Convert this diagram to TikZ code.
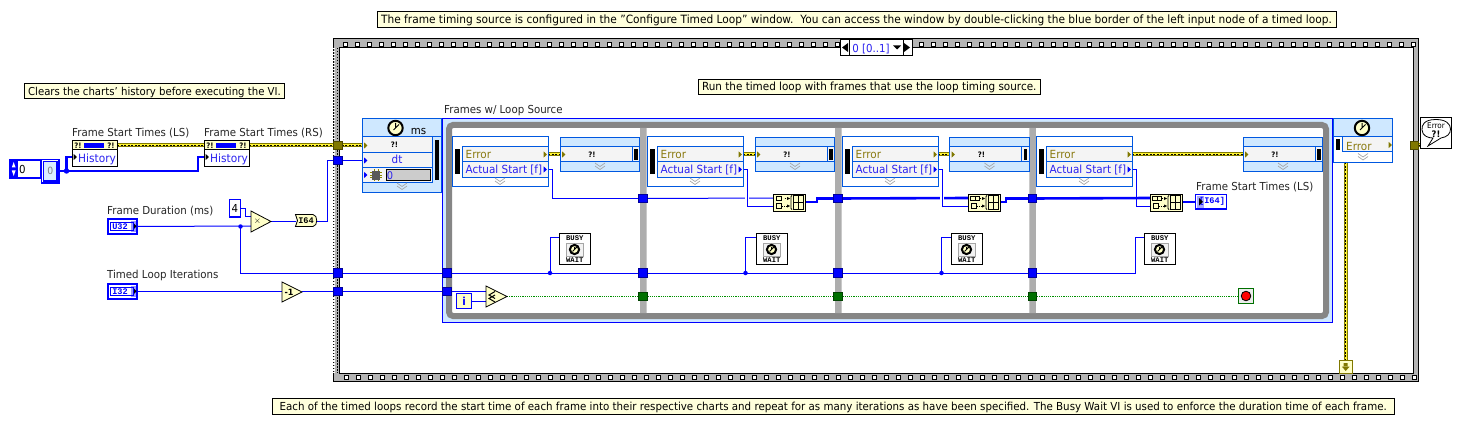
\documentclass[tikz,border=0pt]{standalone}
\usepackage{fontspec}
\setmainfont[FakeStretch=0.93]{DejaVu Sans}
\newfontfamily\monob[FakeStretch=1.0]{Liberation Mono}
\usetikzlibrary{calc}
\definecolor{lvblue}{HTML}{0000FF}
\definecolor{nodeb}{HTML}{0058E0}
\definecolor{lightb}{HTML}{CFE8FF}
\definecolor{rowg}{HTML}{F4F4F4}
\definecolor{notey}{HTML}{FFFFDC}
\definecolor{prim}{HTML}{FFFFC8}
\definecolor{oliv}{HTML}{807800}
\definecolor{errtxt}{HTML}{8A7A10}
\definecolor{txtb}{HTML}{2A20F0}
\definecolor{gframe}{HTML}{868686}
\definecolor{gdiv}{HTML}{ADADAD}
\definecolor{strip}{HTML}{B4B4B4}
\definecolor{dgreen}{HTML}{007000}
\definecolor{boolg}{HTML}{009000}
\pgfdeclarelayer{bg}\pgfdeclarelayer{wires}\pgfsetlayers{bg,wires,main}
\tikzset{
 x=1pt,y=-1pt,
 wire/.style={draw=lvblue,line width=1pt},
 wirethick/.style={draw=lvblue,line width=2.6pt},
 wirejoin/.style={wire,preaction={draw=white,line width=4.5pt}},
 boolw/.style={draw=boolg,line width=1pt,dash pattern=on 1.2pt off 1pt},
 errw/.style={draw=oliv,line width=4pt,postaction={draw=yellow!80!white,line width=2pt},postaction={draw=black,line width=1.7pt,dash pattern=on 2pt off 1.5pt}},
 notebox/.style={draw=black,line width=1pt,fill=notey,text height=9.5pt,text depth=2pt},
 tunnelbox/.style={draw=#1!60!black,line width=.8pt,minimum size=8.5pt,inner sep=0pt,outer sep=0pt},
 tunnelblue/.style={tunnelbox=lvblue,fill=lvblue},
 tunnelerr/.style={tunnelbox=oliv,fill=oliv},
 tunnelgreen/.style={tunnelbox=dgreen,fill=dgreen},
 lbl/.style={anchor=base west,inner sep=0pt,font=\fontsize{11}{12}\selectfont,text=black!85},
 ctr/.style={anchor=base,inner sep=0pt},
 loopbox/.style={draw=nodeb,line width=1pt,fill=lightb},
 framebox/.style={draw=nodeb,line width=1pt,fill=white},
 rowbox/.style={draw=nodeb,line width=1pt,fill=rowg},
 blackbox/.style={draw=black,line width=1pt,fill=white},
 junc/.style={circle,fill=lvblue,inner sep=0pt,minimum size=4.5pt},
 prime/.style={draw=black,line width=.8pt,fill=prim,line join=miter},
}
\newcommand{\rectn}[7]{\pgfmathsetmacro\rw{(#5)-(#3)}\pgfmathsetmacro\rh{(#6)-(#4)}%
 \node[#2,anchor=north west,minimum width=\rw pt,minimum height=\rh pt,inner sep=0pt,outer sep=0pt] (#1) at (#3,#4) {#7};}
\newcommand{\portarrow}[3]{\fill[#1] (#2,#3-3.2) -- (#2+3.4,#3) -- (#2,#3+3.2) -- cycle;}
\newcommand{\chev}[2]{\draw[gray!70,line width=.7pt] (#1-5,#2-3.5) -- (#1,#2) -- (#1+5,#2-3.5) (#1-5,#2-.5) -- (#1,#2+3) -- (#1+5,#2-.5);}
\newcommand{\clockicon}[3]{\draw[black,line width=2pt,fill=prim] (#1,#2) circle (#3);
 \draw[black,line width=1pt] (#1,#2-#3+2) -- (#1,#2) -- (#1+#3*.5,#2-#3*.5) (#1,#2) -- (#1-2,#2+2);}
\newcommand{\errmark}[2]{\node[inner sep=0pt,font=\fontsize{7.5}{8}\selectfont\bfseries] at (#1,#2) {?!};}
\newcommand{\fleft}[2]{%
 \rectn{#1}{framebox}{#2}{137}{#2+96}{186.5}{}
 \rectn{#1r}{rowbox}{#2+10}{147}{#2+96}{162}{}
 \rectn{#1s}{rowbox}{#2+10}{162}{#2+96}{177}{}
 \fill[black] (#2+3,149) rectangle (#2+7.5,174.5);
 \node[lbl,text=errtxt,font=\fontsize{11.2}{12}\selectfont] at (#2+13.5,159) {Error};
 \node[lbl,text=txtb,font=\fontsize{11.2}{12}\selectfont] at (#2+13.5,174) {Actual Start [f]};
 \portarrow{oliv}{#2+91.5}{154.5}\portarrow{lvblue}{#2+91.5}{169.5}
 \chev{#2+48}{181.5}
 \coordinate (#1err) at (#2+96,154.5); \coordinate (#1as) at (#2+96,170);}
\newcommand{\fright}[2]{%
 \rectn{#1}{loopbox}{#2}{138}{#2+79.5}{172}{}
 \rectn{#1r}{rowbox}{#2}{147}{#2+79.5}{162}{}
 \draw[nodeb,line width=1pt] (#2+72,147) -- (#2+72,162);
 \fill[black] (#2+74,149) rectangle (#2+77.5,160);
 \errmark{#2+32}{154.5}
 \portarrow{oliv}{#2+2}{154.5}
 \chev{#2+40}{166.5}
 \coordinate (#1err) at (#2,154.5);}
\newcommand{\busyw}[2]{%
 \rectn{#1}{blackbox}{#2}{233}{#2+31.5}{264.5}{}
 \node[inner sep=0pt,font=\monob\fontsize{7.2}{8}\selectfont\bfseries] at (#2+15.8,238.5) {BUSY};
 \node[inner sep=0pt,font=\monob\fontsize{7.2}{8}\selectfont\bfseries] at (#2+15.8,260) {WAIT};
 \draw[gray!70,line width=.8pt,fill=gray!10] (#2+7,243) rectangle (#2+24,256);
 \clockicon{#2+15.5}{249.5}{4.6}
 \coordinate (#1in) at (#2,237);}
\newcommand{\builder}[3]{%
 \rectn{#1}{prime}{#2}{194}{#2+32}{211}{}
 \ifnum#3=1
  \draw[black,line width=.8pt] (#2+3,196.5) rectangle (#2+8,200.5);
 \else
  \draw[black,line width=.8pt] (#2+2.5,196.5) rectangle (#2+7,200.5) (#2+7,196.5) rectangle (#2+11.5,200.5);
 \fi
 \draw[black,line width=.8pt] (#2+3,203.5) rectangle (#2+8,208);
 \draw[black,line width=.8pt,dash pattern=on 1pt off 1pt,-] (#2+11.5,198.5) -- (#2+15,198.5);
 \draw[black,line width=.8pt,dash pattern=on 1pt off 1pt] (#2+9,206) -- (#2+15,206);
 \fill[black] (#2+14,197) -- (#2+17,198.5) -- (#2+14,200) -- cycle (#2+14,204.5) -- (#2+17,206) -- (#2+14,207.5) -- cycle;
 \draw[black,line width=.8pt] (#2+19,195.5) -- (#2+18,196.5) -- (#2+18,208.5) -- (#2+19,209.5);
 \draw[black,line width=.9pt] (#2+20,195.8) rectangle (#2+30,209.2) (#2+25,195.8) -- (#2+25,209.2) (#2+20,202.5) -- (#2+30,202.5);
 \coordinate (#1a) at (#2,198); \coordinate (#1b) at (#2,206.5); \coordinate (#1o) at (#2+32,202);}
\newcommand{\termn}[5]{% name x y type arrow on right
 \rectn{#1}{draw=lvblue,line width=2pt,fill=white}{#2}{#3}{#2+29.5}{#3+14.5}{}
 \fill[lvblue!40] (#2+23,#3+2) rectangle (#2+28,#3+12.5);
 \draw[lvblue,line width=.8pt] (#2+3,#3+3) rectangle (#2+26,#3+11.5);
 \node[inner sep=0pt,text=lvblue,font=\monob\fontsize{8.6}{9}\selectfont\bfseries] at (#2+12.5,#3+7.2) {#4};
 \fill[black] (#2+26.5,#3+4.5) -- (#2+29,#3+7.2) -- (#2+26.5,#3+10) -- cycle;
 \coordinate (#1o) at (#2+30,#3+7.5);}
\begin{document}
\begin{tikzpicture}
\useasboundingbox (0,0) rectangle (1462,425);
%--- sequence structure
\begin{pgfonlayer}{bg}
\fill[white] (0,0) rectangle (1462,425);
\draw[black,line width=1pt,fill=strip] (333.5,39) rectangle (1418.5,381.5);
\draw[black,line width=1pt,fill=white] (339,48) rectangle (1413.5,373);
\draw[white,line width=1.6pt,dash pattern=on 1.5pt off 1.5pt] (334.2,48) -- (334.2,373);
\draw[black,line width=1pt,dash pattern=on 1.5pt off 1.5pt] (337,48) -- (337,373);
\foreach \i in {0,...,89}{
 \draw[black,line width=.9pt,fill=white] (343.5+12*\i,42) rectangle +(4,4);
 \draw[black,line width=.9pt,fill=white] (344.5+12*\i,375) rectangle +(4,4);
}
%--- frames structure
\draw[lvblue,line width=1pt,fill=lightb] (442.5,118.5) rectangle (1332.5,322);
\draw[gframe,line width=6pt,fill=white,rounded corners=4pt] (449,125) rectangle (1326,316);
\fill[gdiv] (640,128) rectangle (646.5,313) (835,128) rectangle (841.5,313) (1029.3,128) rectangle (1035.8,313);
\end{pgfonlayer}
%--- notes
\rectn{note1}{notebox,font=\fontsize{11.4}{12}\selectfont}{377}{12}{1336}{27.5}{The frame timing source is configured in the "Configure Timed Loop" window.\ \ You can access the window by double-clicking the blue border of the left input node of a timed loop.}
\rectn{note2}{notebox,font=\fontsize{10.9}{12}\selectfont}{24.5}{84}{284.5}{99}{Clears the charts' history before executing the VI.}
\rectn{note3}{notebox,font=\fontsize{11.2}{12}\selectfont}{698.5}{79.5}{1040}{95}{Run the timed loop with frames that use the loop timing source.}
\rectn{note4}{notebox,font=\fontsize{11.05}{12}\selectfont}{272.5}{398.5}{1394}{414.5}{Each of the timed loops record the start time of each frame into their respective charts and repeat for as many iterations as have been specified. The Busy Wait VI is used to enforce the duration time of each frame.}
%--- selector
\rectn{sel}{blackbox}{840}{39.5}{912}{56}{}
\draw[black,line width=1pt] (849,39.5) -- (849,56) (903,39.5) -- (903,56);
\fill[black] (848,43) -- (842,47.5) -- (848,52) -- cycle (904,43) -- (910,47.5) -- (904,52) -- cycle;
\node[ctr,text=txtb,font=\fontsize{11}{12}\selectfont] at (871,52.5) {0 [0..1]};
\fill[black] (893,45.5) -- (901,45.5) -- (897,49.5) -- cycle;
%--- front panel terminals
\rectn{chartA}{blackbox}{72}{141}{117}{167}{}
\rectn{chartB}{blackbox}{204}{141}{249}{167}{}
\foreach \xx/\cn in {72/A,204/B}{
 \draw[black,line width=1pt,fill=prim] (\xx,141) rectangle (\xx+45,150);
 \fill[lvblue] (\xx+12,143) rectangle (\xx+32,148);
 \errmark{\xx+6}{145.5}\errmark{\xx+39}{145.5}
 \portarrow{black}{\xx+1.5}{157}
 \node[lbl,text=txtb,font=\fontsize{11.4}{12}\selectfont] at (\xx+6,162.5) {History};
}
\coordinate (chartAin) at (72,157); \coordinate (chartBin) at (204,157);
\coordinate (chartAout) at (117,145.5); \coordinate (chartBout) at (249,145.5);
\coordinate (chartAoutin) at (204,145.5);
\node[lbl] (lblA) at (72,137) {Frame Start Times (LS)};
\node[lbl] (lblB) at (204,137) {Frame Start Times (RS)};
% numeric control and constant
\rectn{numctl}{draw=lvblue,line width=1.6pt,fill=white}{10}{160}{41}{178}{}
\draw[lvblue,line width=.8pt] (17,160) -- (17,178);
\fill[lvblue] (11,160.5) rectangle (16.5,177.5);
\fill[white] (13.7,162) -- (11.8,167.5) -- (15.6,167.5) -- cycle (13.7,176) -- (11.8,170.5) -- (15.6,170.5) -- cycle;
\node[ctr,font=\fontsize{11}{12}\selectfont] at (22.5,173) {0};
\rectn{ringctl}{draw=lvblue,line width=1.4pt,fill=white}{41.5}{159.5}{59}{183}{}
\rectn{ringin}{draw=lvblue,line width=1.2pt,fill=lightb!80!white}{43.5}{161.5}{57}{181}{\textcolor{gray}{0}}
\coordinate (ctlout) at (59,171);
% frame duration
\node[lbl] (lblD) at (107,214) {Frame Duration (ms)};
\termn{tDur}{107.5}{219}{U32}{}
\rectn{cFour}{draw=lvblue,line width=1.8pt,fill=white}{229.5}{199.5}{240.5}{217}{\fontsize{11}{12}\selectfont 4}
\node[lbl] (lblT) at (107,278) {Timed Loop Iterations};
\termn{tIter}{107.5}{284}{I32}{}
\draw[prime] (251,211) -- (251,232) -- (271,221.5) -- cycle;
\node[inner sep=0pt,font=\fontsize{9}{10}\selectfont\bfseries] at (257.5,221.5) {$\times$};
\coordinate (mulA) at (251,216); \coordinate (mulB) at (251,226); \coordinate (mulO) at (271,221.5);
\draw[prime] (295.5,214.5) -- (313,214.5) .. controls (318,215) and (318,226) .. (313,226.5) -- (295.5,226.5) -- (297.5,220.5) -- cycle;
\node[inner sep=0pt,font=\monob\fontsize{8.6}{9}\selectfont\bfseries] at (306,220.7) {I64};
\coordinate (convI) at (296,221.5); \coordinate (convO) at (317,221.5);
\draw[prime] (282,282) -- (282,302) -- (302,292) -- cycle;
\node[inner sep=0pt,font=\fontsize{8.6}{9}\selectfont\bfseries] at (289,292) {-1};
\coordinate (decI) at (282,291.5); \coordinate (decO) at (302,291.5);
%--- tunnels
\node[tunnelerr] (tErrL) at (338,145.5) {};
\node[tunnelblue] (tDt) at (338,160.5) {};
\node[tunnelblue] (tDurO) at (338,273) {};
\node[tunnelblue] (tIterO) at (338,291.5) {};
\node[tunnelblue] (fDur) at (447,273) {};
\node[tunnelblue] (fIter) at (447,291.5) {};
\foreach \xx/\nn in {643/a,838/b,1032.5/c}{
 \node[tunnelblue] (arr\nn) at (\xx,198.5) {};
 \node[tunnelblue] (dur\nn) at (\xx,273) {};
 \node[tunnelgreen] (stp\nn) at (\xx,296.5) {};
}
\node[tunnelerr] (tErrR) at (1414.5,145.5) {};
%--- timed loop input node
\rectn{inNode}{loopbox}{362}{118.5}{441.5}{192}{}
\rectn{inR1}{rowbox}{362}{137}{432}{152.5}{}
\rectn{inR2}{rowbox}{362}{152.5}{432}{167.5}{}
\rectn{inR3}{rowbox}{362}{167.5}{432}{182}{}
\draw[nodeb,line width=1pt] (432,137) -- (441.5,137);
\fill[black] (435,140) rectangle (439,179.5);
\clockicon{395.5}{128}{7.2}
\node[ctr,font=\fontsize{11}{12}\selectfont] at (418.5,135) {ms};
\errmark{394.5}{145}
\node[ctr,text=txtb,font=\fontsize{11.2}{12}\selectfont] at (397,164) {dt};
\portarrow{oliv}{364}{145.5}\portarrow{lvblue}{364}{160.5}\portarrow{lvblue}{364}{175}
\draw[olive,line width=.7pt] (370,172.5) -- (382,172.5) (370,175) -- (382,175) (370,177.5) -- (382,177.5) (374,169.5) -- (374,181) (378,169.5) -- (378,181);
\fill[black!65] (372,171) rectangle (380,179.5);
\draw[black,line width=.9pt,fill=gray!40] (386.5,169.5) rectangle (430.5,180.5);
\node[ctr,text=txtb,font=\fontsize{10.6}{12}\selectfont] at (390,179) {0};
\chev{402}{186.5}
\coordinate (inErr) at (362,145.5); \coordinate (inDt) at (362,160.5);
\node[lbl] (lblF) at (444,114) {Frames w/ Loop Source};
%--- frames
\fleft{fa}{452}\fright{ra}{560}
\fleft{fb}{647}\fright{rb}{755}
\fleft{fc}{842}\fright{rc}{949.5}
\fleft{fd}{1036}\fright{rd}{1243}
\builder{ba}{773}{1}\builder{bb}{968}{2}\builder{bc}{1150}{2}
\busyw{wa}{559}\busyw{wb}{756}\busyw{wc}{951}\busyw{wd}{1144}
% output array terminal
\rectn{outArr}{draw=lvblue,line width=1.2pt,fill=white}{1195.5}{194.5}{1226.5}{209}{}
\fill[lvblue!35] (1197,196) rectangle (1204,207.5);
\node[inner sep=0pt,text=lvblue,font=\monob\fontsize{8.6}{9}\selectfont\bfseries] at (1212,201.5) {[I64]};
\fill[black] (1199,198) -- (1203,201.8) -- (1199,205.5) -- cycle;
\coordinate (outIn) at (1195.5,202);
\node[lbl] (lblO) at (1196,190) {Frame Start Times (LS)};
% i and comparator, stop
\rectn{iterI}{draw=lvblue,line width=1.8pt,fill=prim}{456.5}{293.5}{471.5}{308.5}{\textcolor{lvblue}{\fontsize{11}{12}\selectfont\bfseries i}}
\draw[prime] (486,286) -- (486,307) -- (507,296.5) -- cycle;
\draw[black,line width=1pt] (495,291.5) -- (489,295) -- (495,298.5) (495,295) -- (489,298.5) -- (495,302);
\coordinate (cmpA) at (486,291.5); \coordinate (cmpB) at (486,301); \coordinate (cmpO) at (507,296.5);
\coordinate (iO) at (472,301);
\rectn{stopT}{draw=dgreen,line width=1.2pt,fill=gray!15}{1238.5}{288.5}{1253.5}{303.5}{}
\draw[black,line width=.8pt,fill=red] (1246,296) circle (4.8);
\coordinate (stopI) at (1238.5,296.5);
%--- timed loop output node
\rectn{outNode}{framebox}{1333}{137}{1392.5}{162.5}{}
\rectn{outHead}{loopbox}{1333}{118.5}{1392.5}{137}{}
\rectn{outR}{rowbox}{1342}{137}{1392.5}{152}{}
\fill[black] (1336,139.5) rectangle (1339.8,150);
\clockicon{1362}{128}{7.2}
\node[lbl,text=errtxt,font=\fontsize{11.2}{12}\selectfont] at (1346,150) {Error};
\portarrow{oliv}{1388.5}{145}
\chev{1363}{157}
\coordinate (outErr) at (1345.5,162.5);
\coordinate (outErrR) at (1392.5,145.5);
% error bottom terminal and indicator
\rectn{errT}{draw=oliv,line width=1pt,fill=prim}{1339.5}{360.5}{1352}{373}{}
\fill[oliv] (1343.5,363) rectangle (1347.5,367) (1341.8,366.5) -- (1349.7,366.5) -- (1345.7,371) -- cycle;
\rectn{errI}{blackbox}{1420.5}{117.5}{1451.5}{148.5}{}
\draw[black,line width=.8pt] (1436,119.5) .. controls (1424,119.5) and (1421.5,125) .. (1422,130) .. controls (1422.5,136) and (1428,138) .. (1433,138) -- (1428,146) -- (1441,138) .. controls (1447,137) and (1450.5,134) .. (1450.5,129) .. controls (1450.5,124) and (1446,119.5) .. (1436,119.5) -- cycle;
\node[inner sep=0pt,font=\fontsize{7.8}{8}\selectfont] at (1436,126) {Error};
\node[inner sep=0pt,font=\fontsize{9}{9}\selectfont\bfseries] at (1436,134) {?!};
\coordinate (errIn) at (1420.5,145.5);
%--- wires
\begin{pgfonlayer}{wires}
\draw[errw] (chartAout) -- (chartAoutin);
\draw[errw] (chartBout) -- (tErrL.center);
\draw[errw] (tErrL.center) -- (inErr);
\draw[errw] (faerr) -- (raerr);
\draw[errw] (fberr) -- (rberr);
\draw[errw] (fcerr) -- (rcerr);
\draw[errw] (fderr) -- (rderr);
\draw[errw] (outErr) -- (outErr |- errT.north);
\draw[wirethick] (ctlout) -- ++(7.5,0) |- (chartAin);
\draw[wirethick] (ctlout) -- ++(139,0) |- (chartBin);
\node[junc,minimum size=5.5pt] (jCtl) at (66.5,171) {};
\draw[wire] (tDuro) -- (mulB);
\draw[wire] (cFour.east) -- ++(5,0) |- (mulA);
\node[junc] (jDur) at (240.5,226.5) {};
\draw[wire] (jDur.center) |- (tDurO.center);
\draw[wire] (mulO) -- (convI);
\draw[wire] (convO) -- ++(10,0) |- (tDt.center);
\draw[wire] (tDt.center) -- (inDt);
\draw[wire] (tItero) -- (decI);
\draw[wire] (decO) -- (tIterO.center);
\draw[wire] (tIterO.center) -- (fIter.center);
\draw[wire] (tDurO.center) -- (fDur.center);
\draw[wire] (fDur.center) -- (dura.center);
\draw[wire] (dura.center) -- (durb.center);
\draw[wire] (durb.center) -- (durc.center);
\draw[wire] (fIter.center) -- (cmpA);
\draw[wire] (iO) -- (cmpB);
\draw[boolw] (cmpO) -- (stpa.center);
\draw[boolw] (stpa.center) -- (stpb.center);
\draw[boolw] (stpb.center) -- (stpc.center);
\draw[boolw] (stpc.center) -- (stopI);
\draw[wire] (faas) -- ++(4,0) |- (arra.center);
\draw[wire] (arra.center) -- (baa);
\draw[wirejoin] (fbas) -- ++(4,0) |- (bab);
\draw[wirethick] (bao) -- ++(12,0) |- (arrb.center);
\draw[wirethick] (arrb.center) -- (bba);
\draw[wirejoin] (fcas) -- ++(4,0) |- (bbb);
\draw[wirethick] (bbo) -- ++(6,0) |- (arrc.center);
\draw[wirethick] (arrc.center) -- (bca);
\draw[wire] (fdas) -- ++(4,0) |- (bcb);
\draw[wirethick] (bco) -- (outIn);
\coordinate (busA) at (550,273);\coordinate (busB) at (745.5,273);\coordinate (busC) at (941.5,273);\coordinate (busD) at (1135.5,273);
\draw[wire] (busA) |- (wain);
\draw[wire] (busB) |- (wbin);
\draw[wire] (busC) |- (wcin);
\draw[wire] (durc.center) -| (busD) |- (wdin);
\node[junc] (jA) at (busA) {};\node[junc] (jB) at (busB) {};\node[junc] (jC) at (busC) {};
\draw[errw] (tErrR.center) -- (errIn);
\end{pgfonlayer}
\end{tikzpicture}
\end{document}
